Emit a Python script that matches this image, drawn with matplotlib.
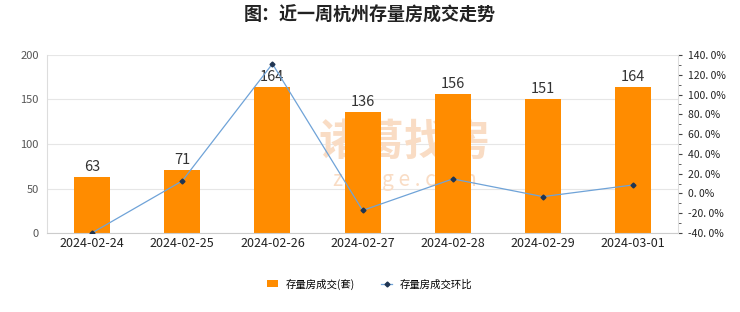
import matplotlib.pyplot as plt
from matplotlib.ticker import MultipleLocator, FuncFormatter
from matplotlib.lines import Line2D
from matplotlib.patches import Patch

plt.rcParams['font.family'] = ['Noto Sans CJK SC', 'DejaVu Sans']

dates = ['2024-02-24', '2024-02-25', '2024-02-26', '2024-02-27',
         '2024-02-28', '2024-02-29', '2024-03-01']
deals = [63, 71, 164, 136, 156, 151, 164]
ratio = [-39.8, 12.7, 131.0, -17.1, 14.7, -3.2, 8.6]  # 环比 %

fig = plt.figure(figsize=(7.4, 3.12), dpi=100)
ax = fig.add_axes([0.0635, 0.253, 0.853, 0.571])
ax2 = ax.twinx()

x = range(len(dates))
ax.bar(x, deals, width=0.4, color='#FF8C00', zorder=2)
for i, v in enumerate(deals):
    ax.text(i, v + 3, str(v), ha='center', va='bottom', fontsize=10.5, color='#333333', zorder=4)

# watermark, sits behind the bars
ax.text(0.567, 0.51, '诸葛找房', transform=ax.transAxes, fontsize=31, color='#f9dcc4',
        ha='center', va='center', fontweight='bold', zorder=1)
ax.text(0.567, 0.30, 'z h u g e . c o m', transform=ax.transAxes, fontsize=15,
        color='#f9dcc4', ha='center', va='center', zorder=1)

ax.set_xlim(-0.5, len(dates) - 0.5)
ax.set_ylim(0, 200)
ax.set_yticks([0, 50, 100, 150, 200])
ax.grid(axis='y', color='#e6e6e6', linewidth=0.8, zorder=0)
ax.set_axisbelow(True)
ax.set_xticks(list(x))
ax.set_xticklabels(dates, fontsize=9, color='#222222')
ax.tick_params(axis='y', labelsize=8, labelcolor='#555555', length=0, pad=6)
ax.tick_params(axis='x', length=0, pad=3)
for s in ['top', 'right']:
    ax.spines[s].set_visible(False)
ax.spines['left'].set_color('#dddddd')
ax.spines['bottom'].set_color('#cccccc')

ax2.plot(list(x), ratio, color='#6fa3d8', linewidth=0.9, marker='D', markersize=2.5,
         markerfacecolor='#1f3553', markeredgecolor='#1f3553', zorder=3)
ax2.set_ylim(-40, 140)
ax2.yaxis.set_major_locator(MultipleLocator(20))
ax2.yaxis.set_minor_locator(MultipleLocator(10))
ax2.yaxis.set_major_formatter(FuncFormatter(lambda v, p: '{:.1f}%'.format(v).replace('.', '. ')))
ax2.tick_params(axis='y', which='major', labelsize=7.5, labelcolor='#222222', length=3,
                color='#444444', pad=4)
ax2.tick_params(axis='y', which='minor', length=2, color='#444444')
for s in ['top', 'left', 'bottom']:
    ax2.spines[s].set_visible(False)
ax2.spines['right'].set_color('#dddddd')

fig.text(0.5, 0.952, '图：近一周杭州存量房成交走势', fontsize=13, fontweight='bold',
         ha='center', va='center', color='#222222')

handles = [Patch(facecolor='#FF8C00', edgecolor='none'),
           Line2D([0], [0], color='#6fa3d8', linewidth=0.9, marker='D', markersize=2.5,
                  markerfacecolor='#1f3553', markeredgecolor='#1f3553')]
fig.legend(handles, ['存量房成交(套)', '存量房成交环比'], loc='center',
           bbox_to_anchor=(0.5, 0.09), ncol=2, frameon=False, fontsize=7.5,
           handlelength=1.0, handleheight=0.6, columnspacing=2.5, handletextpad=0.8)

fig.savefig('out.png', dpi=100)
